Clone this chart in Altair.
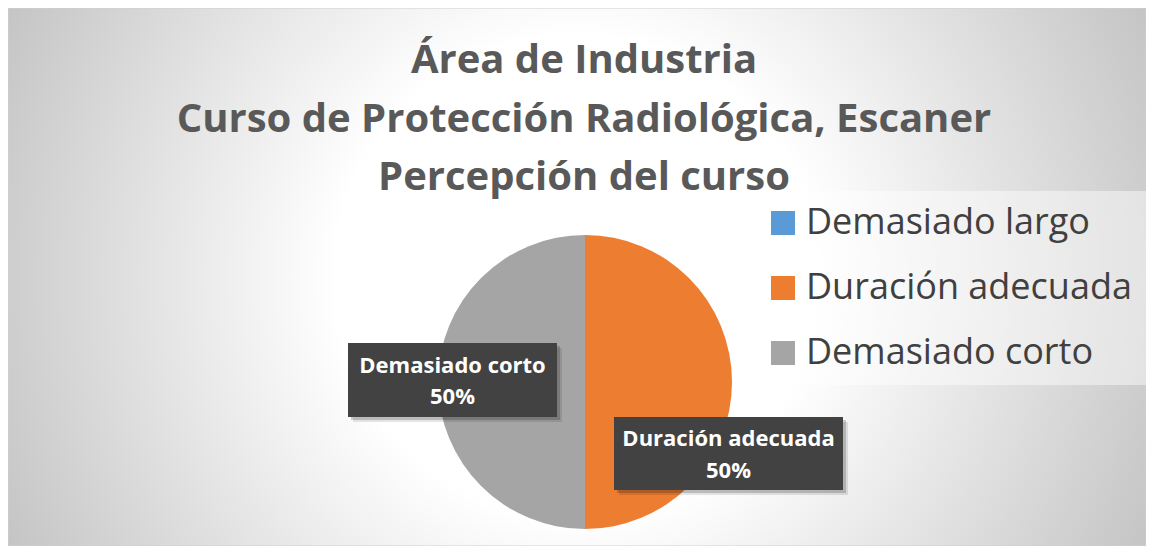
import altair as alt
import pandas as pd

# ---- data ----
CATEGORIES = ["Demasiado largo", "Duración adecuada", "Demasiado corto"]
PERCENTS = [0, 50, 50]
COLORS = ["#5B9BD5", "#ED7D31", "#A5A5A5"]
TITLE_LINES = ["Área de Industria", "Curso de Protección Radiológica, Escaner", "Percepción del curso"]

# ---- layout / style ----
W, H = 1138, 538
CX, CY, R = 577, 374, 147
LR = 132.5
FONT = "Open Sans"
LABEL_BOX = {
    "Demasiado corto": dict(w=209, h=74, dx=0, dy=-2),
    "Duración adecuada": dict(w=229, h=73, dx=11, dy=71.5),
}

df = pd.DataFrame({"category": CATEGORIES, "value": PERCENTS, "idx": list(range(len(CATEGORIES)))})

xs = alt.Scale(domain=[0, W], range=[0, W])
ys = alt.Scale(domain=[0, H], range=[0, H])

bg = alt.Chart(pd.DataFrame({"k": [0]})).mark_rect(
    fill=alt.RadialGradient(
        gradient="radial",
        stops=[alt.GradientStop(color="#ffffff", offset=0),
               alt.GradientStop(color="#ffffff", offset=0.38),
               alt.GradientStop(color="#c4c4c4", offset=1)],
        x1=0.5, y1=0.5, r1=0, x2=0.5, y2=0.5, r2=0.557),
    stroke="#d0d0d0", strokeWidth=1,
).encode(x=alt.value(0), x2=alt.value(W), y=alt.value(0), y2=alt.value(H))

title = alt.Chart(pd.DataFrame({"k": [0]})).mark_text(
    text=TITLE_LINES, font=FONT, fontWeight="bold", fontSize=40, color="#595959",
    align="center", baseline="alphabetic", lineHeight=58.5,
).encode(x=alt.value(576), y=alt.value(65))

pie = alt.Chart(df).mark_arc(outerRadius=R).encode(
    theta=alt.Theta("value:Q", stack=True),
    order=alt.Order("idx:Q"),
    color=alt.Color(
        "category:N",
        scale=alt.Scale(domain=CATEGORIES, range=COLORS),
        legend=alt.Legend(
            orient="none", legendX=743, legendY=183, title=None,
            symbolType="square", symbolSize=576, symbolStrokeWidth=0, symbolOpacity=1,
            labelFont=FONT, labelFontSize=36, labelColor="#404040", labelOffset=5,
            labelLimit=0, rowPadding=29, padding=14,
            fillColor="rgba(255,255,255,0.45)",
        ),
    ),
    x=alt.value(CX), y=alt.value(CY),
)

lab_base = (
    alt.Chart(df)
    .transform_joinaggregate(total="sum(value)")
    .transform_window(cum="sum(value)", sort=[alt.SortField("idx")], frame=[None, 0])
    .transform_filter("datum.value > 0")
    .transform_calculate(
        mid="(datum.cum - datum.value/2) / datum.total * 2 * PI",
        pct="format(datum.value / datum.total, '.0%')",
    )
)

layers = [bg, title, pie]
for cat, b in LABEL_BOX.items():
    lb = lab_base.transform_filter(alt.datum.category == cat).transform_calculate(
        lx=f"{CX} + {LR}*sin(datum.mid) + {b['dx']}",
        ly=f"{CY} - {LR}*cos(datum.mid) + {b['dy']}",
    ).transform_calculate(
        bx1=f"datum.lx - {b['w']/2}", bx2=f"datum.lx + {b['w']/2}",
        by1=f"datum.ly - {b['h']/2}", by2=f"datum.ly + {b['h']/2}",
    )
    for off, op in [(5, 0.10), (3, 0.18)]:
        sh = lb.transform_calculate(
            sx1=f"datum.bx1 + {off}", sx2=f"datum.bx2 + {off}",
            sy1=f"datum.by1 + {off}", sy2=f"datum.by2 + {off}",
        ).mark_rect(color="#000000", opacity=op).encode(
            x=alt.X("sx1:Q", scale=xs, axis=None), x2="sx2:Q",
            y=alt.Y("sy1:Q", scale=ys, axis=None), y2="sy2:Q",
        )
        layers.append(sh)
    box = lb.mark_rect(color="#424242").encode(
        x=alt.X("bx1:Q", scale=xs, axis=None), x2="bx2:Q",
        y=alt.Y("by1:Q", scale=ys, axis=None), y2="by2:Q",
    )
    t1 = lb.mark_text(font=FONT, fontWeight="bold", fontSize=22, color="#ffffff",
                      align="center", baseline="alphabetic", dy=-7.5).encode(
        x=alt.X("lx:Q", scale=xs, axis=None), y=alt.Y("ly:Q", scale=ys, axis=None),
        text="category:N")
    t2 = lb.mark_text(font=FONT, fontWeight="bold", fontSize=22, color="#ffffff",
                      align="center", baseline="alphabetic", dy=24).encode(
        x=alt.X("lx:Q", scale=xs, axis=None), y=alt.Y("ly:Q", scale=ys, axis=None),
        text="pct:N")
    layers += [box, t1, t2]

chart = alt.layer(*layers).properties(
    width=W, height=H, padding=0, autosize=alt.AutoSizeParams(type="none"),
    background="#ffffff",
).configure_view(stroke=None)

chart.save("out.html", embed_options={"renderer": "svg", "actions": False})
